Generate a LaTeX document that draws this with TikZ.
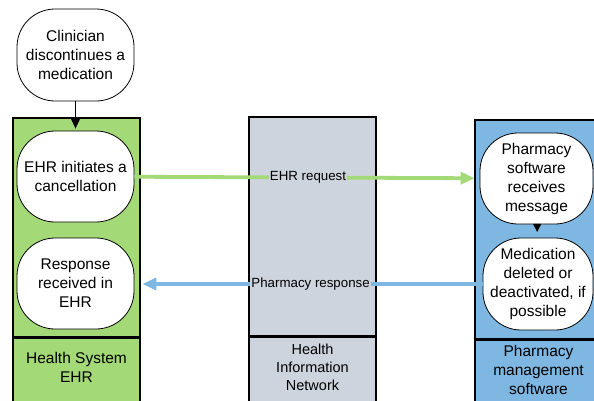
\documentclass[tikz,border=0pt]{standalone}
\usepackage{fontspec}
\setmainfont{Liberation Sans}
\usetikzlibrary{arrows.meta}
\definecolor{ehrgreen}{HTML}{A3D977}
\definecolor{hingray}{HTML}{CED4DD}
\definecolor{pharmblue}{HTML}{7EB7E2}
\tikzset{
  lane/.style={draw=black, line width=1.8pt, rectangle, inner sep=0pt, minimum width=127pt},
  laneLabel/.style={align=center, inner sep=0pt, font=\fontsize{15.5}{19}\selectfont},
  stepbox/.style={draw=black, fill=white, line width=0.8pt, rectangle, rounded corners=38pt,
    align=center, inner sep=0pt, font=\fontsize{15.5}{19}\selectfont},
  flow/.style={line width=3.8pt, -{Triangle[length=14pt,width=12pt]}},
  msg/.style={fill=hingray, inner sep=1pt, font=\fontsize{13.3}{15}\selectfont},
}
\begin{document}
\begin{tikzpicture}[x=1pt,y=-1pt]
\useasboundingbox (0,0) rectangle (594,400);

% swimlane bodies
\node[lane, fill=ehrgreen, minimum height=219pt] (ehrlane) at (76.5,227.5) {};
\node[lane, fill=hingray, minimum height=219pt] (hinlane) at (312.5,226.5) {};
\node[lane, fill=pharmblue, minimum height=219pt] (pharmlane) at (538.5,229.5) {};

% swimlane footers
\node[lane, fill=ehrgreen, minimum height=73pt, anchor=north] (ehrfoot) at (76.5,337) {};
\node[lane, fill=hingray, minimum height=74pt, anchor=north] (hinfoot) at (312.5,336) {};
\node[lane, fill=pharmblue, minimum height=71pt, anchor=north] (pharmfoot) at (538.5,339) {};

% swimlane titles
\node[laneLabel] (ehrtitle) at (76.5,367.5) {Health System\\EHR};
\node[laneLabel, font=\fontsize{14.5}{18}\selectfont] (hintitle) at (312.5,367) {Health\\Information\\Network};
\node[laneLabel] (pharmtitle) at (538.5,370) {Pharmacy\\management\\software};

% process steps
\node[stepbox, minimum width=117pt, minimum height=92pt] (clin) at (75.5,55) {Clinician\\discontinues a\\medication};
\node[stepbox, minimum width=117pt, minimum height=91pt] (init) at (75.5,176.5) {EHR initiates a\\cancellation};
\node[stepbox, minimum width=117pt, minimum height=91pt] (resp) at (75.5,283.5) {Response\\received in\\EHR};
\node[stepbox, minimum width=113pt, minimum height=91pt] (recv) at (536.5,178.5) {Pharmacy\\software\\receives\\message};
\node[stepbox, minimum width=110pt, minimum height=92pt] (dele) at (538,284) {Medication\\deleted or\\deactivated, if\\possible};

% connectors
\draw[line width=1.2pt, -{Triangle[length=10pt,width=9pt]}, shorten >=2pt] (clin) -- (init);
\draw[line width=1.2pt, -{Latex[round,length=9pt,width=9pt]}, shorten >=6pt] (recv) -- (dele);

\draw[flow, ehrgreen, shorten >=5pt] (init) -- (recv)
  node[msg, text=black, pos=0.5, xshift=1pt] (req) {EHR request};
\draw[flow, pharmblue, shorten >=8pt] (dele.west) -- (resp.east |- dele.west)
  node[msg, text=black, pos=0.494] (rsp) {Pharmacy response};
\end{tikzpicture}
\end{document}
